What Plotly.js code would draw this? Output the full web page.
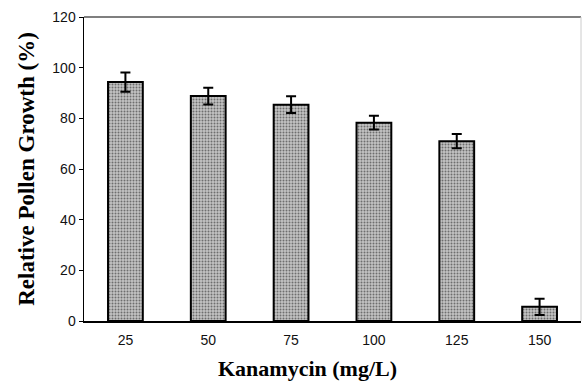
<!DOCTYPE html>
<html>
<head>
<meta charset="utf-8">
<script src="https://cdn.plot.ly/plotly-3.0.1.min.js"></script>
<style>html,body{margin:0;padding:0;background:#fff;}#chart{width:582px;height:381px;}</style>
</head>
<body>
<div id="chart"></div>
<script>
var categories = ["25", "50", "75", "100", "125", "150"];
var growth = [94.3, 88.8, 85.4, 78.3, 71.0, 5.6];
var errors = [3.8, 3.3, 3.3, 2.7, 2.8, 3.2];
var yTicks = [0, 20, 40, 60, 80, 100, 120];
var xTitle = "Kanamycin (mg/L)";
var yTitle = "Relative Pollen Growth (%)";

var titleFont = {family: "Liberation Serif, Times New Roman, serif", size: 22, color: "#000", weight: "bold"};

var trace = {
  type: "bar",
  x: categories,
  y: growth,
  error_y: {type: "data", array: errors, visible: true, color: "#000", thickness: 2, width: 5},
  marker: {
    color: "#b4b4b4",
    line: {color: "#000", width: 2},
    pattern: {shape: ".", fgcolor: "#6e6e6e", bgcolor: "#c4c4c4", size: 3, solidity: 0.35}
  },
  hoverinfo: "none"
};

var layout = {
  width: 582, height: 381,
  margin: {l: 84, r: 1, t: 17, b: 60},
  paper_bgcolor: "#fff", plot_bgcolor: "#fff",
  showlegend: false,
  bargap: 0.58,
  font: {family: "Liberation Sans, Arial, sans-serif", size: 14, color: "#000"},
  xaxis: {
    type: "category",
    showline: true, linecolor: "#000", linewidth: 1.5,
    ticks: "", showgrid: false, zeroline: false,
    ticklabelstandoff: 6,
    tickfont: {size: 14, family: "Liberation Sans, Arial, sans-serif", color: "#111"}
  },
  yaxis: {
    range: [0, 120],
    tickvals: yTicks,
    showline: true, linecolor: "#000", linewidth: 1.5,
    ticks: "outside", ticklen: 4, tickcolor: "#000",
    showgrid: false, zeroline: false,
    tickfont: {size: 14, family: "Liberation Sans, Arial, sans-serif", color: "#111"},
    title: {text: yTitle, font: {family: "Liberation Serif, Times New Roman, serif", size: 23, color: "#000", weight: "bold"}, standoff: 11}
  },
  annotations: [
    {text: xTitle, xref: "paper", yref: "paper", x: 0.45, y: -0.155, xanchor: "center", yanchor: "middle", showarrow: false, font: titleFont}
  ],
  shapes: [
    {type: "line", xref: "paper", yref: "paper", x0: 0, x1: 1, y0: 1, y1: 1, line: {color: "#555", width: 1.5}},
    {type: "line", xref: "paper", yref: "paper", x0: 1, x1: 1, y0: 0, y1: 1, line: {color: "#ccc", width: 1}}
  ]
};

Plotly.newPlot("chart", [trace], layout, {displayModeBar: false, staticPlot: true});
</script>
</body>
</html>
